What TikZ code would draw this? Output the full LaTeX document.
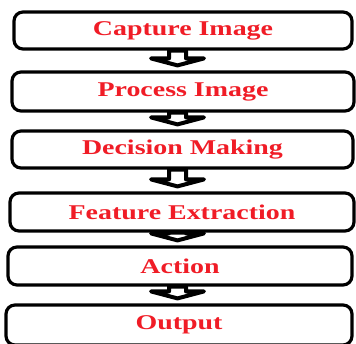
\documentclass[tikz,border=0pt]{standalone}
\usepackage{fontspec}
\usetikzlibrary{calc}
\newfontfamily\boxfont{Liberation Serif}[FakeStretch=1.33]
\definecolor{lblred}{RGB}{240,28,38}
% block arrow from one box to the next
\newcommand{\flowarrow}[2]{%
    \draw[flowarr] let \p1=(#1.south), \p2=(#2.north) in
        (169pt,\y1) -- (169pt,\y2+12pt) -- (151pt,\y2+12pt) -- (177.5pt,\y2+5pt)
        -- (204pt,\y2+12pt) -- (186pt,\y2+12pt) -- (186pt,\y1) -- cycle;}
\begin{document}
\begin{tikzpicture}[x=1pt,y=1pt,
    stage/.style={draw=black, line width=3.2pt, rounded corners=9pt, fill=white,
        inner sep=0pt, minimum height=37pt, text=lblred,
        font=\boxfont\bfseries\fontsize{21}{24}\selectfont},
    flowarr/.style={draw=black, fill=white, line width=4pt, line join=round}]
    \useasboundingbox (0,0) rectangle (356,-343);
    \node[stage, minimum width=338pt] (capture) at (183,-30.5){Capture Image};
    \node[stage, minimum width=342pt, minimum height=39pt] (process) at (183,-91.5){Process Image};
    \node[stage, minimum width=341pt] (decide) at (182.5,-149.5){Decision Making};
    \node[stage, minimum width=344pt, minimum height=38pt] (feature) at (182,-212){Feature Extraction};
    \node[stage, minimum width=344pt, minimum height=38pt] (action) at (180,-266){Action};
    \node[stage, minimum width=346pt, minimum height=40pt] (output) at (179,-325){Output};
    \flowarrow{capture}{process}
    \flowarrow{process}{decide}
    \flowarrow{decide}{feature}
    \flowarrow{feature}{action}
    \flowarrow{action}{output}
\end{tikzpicture}
\end{document}
